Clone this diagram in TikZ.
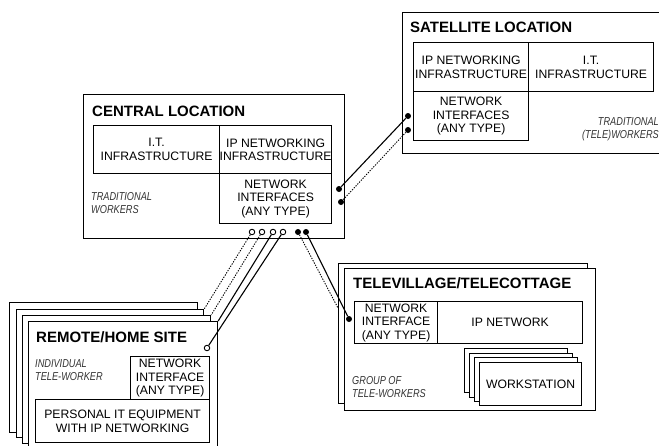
\documentclass[tikz,border=0pt]{standalone}
\usepackage{fontspec}
\setmainfont{Liberation Sans}
\newfontfamily\narrowfont[FakeStretch=0.8]{Liberation Sans}
\begin{document}
\begin{tikzpicture}[x=1pt,y=-1pt,
  box/.style={draw, line width=1.2pt, fill=white, inner sep=0pt, anchor=north west},
  lbl/.style={font=\fontsize{12.2}{13.6}\selectfont, align=center, inner sep=0pt},
  ttl/.style={font=\fontsize{15}{17}\selectfont\bfseries, anchor=west, inner sep=0pt},
  note/.style={font=\narrowfont\itshape\fontsize{11.5}{13.5}\selectfont, text=black!80, inner sep=0pt},
  odot/.style={circle, draw, line width=0.9pt, fill=white, minimum size=5.5pt, inner sep=0pt},
  fdot/.style={circle, fill=black, minimum size=6pt, inner sep=0pt},
  link/.style={line width=1.1pt},
  dlink/.style={line width=0.9pt, dash pattern=on 1.3pt off 1.3pt}]
\clip (0,0) rectangle (659,445);
\fill[white] (0,0) rectangle (659,445);

% central location
\node[box, minimum width=261pt, minimum height=144pt] (central) at (83,94) {};
\node[box, minimum width=126pt, minimum height=48pt] (cit) at (93,125) {};
\node[box, minimum width=112pt, minimum height=48pt] (cip) at (219,125) {};
\node[box, minimum width=112pt, minimum height=50pt] (cni) at (219,173) {};
\node[ttl] (ctitle) at (92,111) {CENTRAL LOCATION};
\node[lbl] at (cit.center) {I.T.\\INFRASTRUCTURE};
\node[lbl] at (cip.center) {IP NETWORKING\\INFRASTRUCTURE};
\node[lbl] at (cni.center) {NETWORK\\INTERFACES\\(ANY TYPE)};
\node[note, anchor=north west, align=left] (cnote) at (91,192) {TRADITIONAL\\WORKERS};

% satellite location
\node[box, minimum width=270pt, minimum height=141pt] (sat) at (402,12) {};
\node[box, minimum width=115pt, minimum height=49pt] (sip) at (413,42) {};
\node[box, minimum width=125pt, minimum height=49pt] (sit) at (528,42) {};
\node[box, minimum width=115pt, minimum height=49pt] (sni) at (413,91) {};
\node[ttl] (stitle) at (410,27) {SATELLITE LOCATION};
\node[lbl] at (sip.center) {IP NETWORKING\\INFRASTRUCTURE};
\node[lbl] at (sit.center) {I.T.\\INFRASTRUCTURE};
\node[lbl] at (sni.center) {NETWORK\\INTERFACES\\(ANY TYPE)};
\node[note, anchor=north east, align=right] (snote) at (659,117) {TRADITIONAL\\(TELE)WORKERS};

% remote / home sites (stack)
\node[box, minimum width=188pt, minimum height=130pt] (rb1) at (9,302) {};
\node[box, minimum width=187pt, minimum height=128pt] (rb2) at (16,309) {};
\node[box, minimum width=188pt, minimum height=128pt] (rb3) at (22,315) {};
\node[box, minimum width=189pt, minimum height=140pt] (rb4) at (28,321) {};
\node[box, minimum width=79pt, minimum height=43pt] (rni) at (130,356) {};
\node[box, minimum width=174pt, minimum height=43pt] (rpi) at (35,399) {};
\node[ttl] (rtitle) at (36,337) {REMOTE/HOME SITE};
\node[lbl] at (rni.center) {NETWORK\\INTERFACE\\(ANY TYPE)};
\node[lbl] at (rpi.center) {PERSONAL IT EQUIPMENT\\WITH IP NETWORKING};
\node[note, anchor=north west, align=left] (rnote) at (35,359) {INDIVIDUAL\\TELE-WORKER};

% televillage / telecottage
\node[box, minimum width=249pt, minimum height=140pt] (tb1) at (338,263) {};
\node[box, minimum width=251pt, minimum height=142pt] (tb2) at (344,268) {};
\node[box, minimum width=83pt, minimum height=42pt] (tni) at (354,301) {};
\node[box, minimum width=145pt, minimum height=42pt] (tip) at (437,301) {};
\node[ttl] (ttitle) at (353,283) {TELEVILLAGE/TELECOTTAGE};
\node[lbl] at (tni.center) {NETWORK\\INTERFACE\\(ANY TYPE)};
\node[lbl] at (tip.center) {IP NETWORK};
\node[note, anchor=north west, align=left] (tnote) at (352,376) {GROUP OF\\TELE-WORKERS};

% workstations (stack)
\node[box, minimum width=103pt, minimum height=44pt] (w1) at (464,348) {};
\node[box, minimum width=103pt, minimum height=44pt] (w2) at (469,353) {};
\node[box, minimum width=103pt, minimum height=44pt] (w3) at (474,357) {};
\node[box, minimum width=102pt, minimum height=43pt] (w4) at (479,362) {};
\node[lbl] at (w4.center) {WORKSTATION};

% connection points
\node[odot] (c1) at (252,232) {};
\node[odot] (c2) at (262,232) {};
\node[odot] (c3) at (273,232) {};
\node[odot] (c4) at (283,232) {};
\node[fdot] (cf1) at (298,232) {};
\node[fdot] (cf2) at (306,232) {};
\node[fdot] (cr1) at (339,189) {};
\node[fdot] (cr2) at (341,202) {};
\node[fdot] (s1) at (408,116) {};
\node[fdot] (s2) at (408,130) {};
\node[odot] (rc) at (207,348) {};
\node[fdot] (td) at (349,319) {};
\coordinate (tv) at (338,308);

% links
\draw[dlink] (c1) -- (rb2.north east);
\draw[dlink] (c2) -- (rb3.north east);
\draw[link] (c3) -- (rb4.north east);
\draw[link] (c4) -- (rc);
\draw[dlink] (cf1) -- (tv);
\draw[link] (cf2) -- (td);
\draw[link] (cr1) -- (s1);
\draw[dlink] (cr2) -- (s2);
\end{tikzpicture}
\end{document}
